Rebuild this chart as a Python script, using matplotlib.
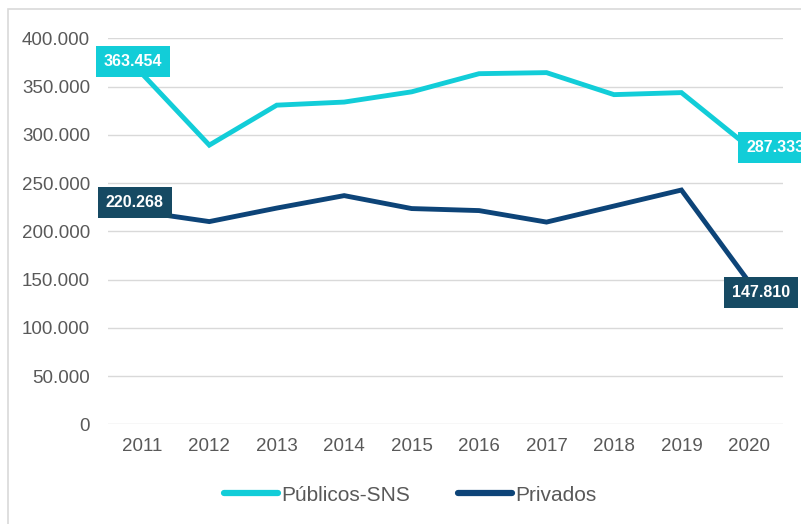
import matplotlib
matplotlib.use("Agg")
import matplotlib.pyplot as plt
from matplotlib.ticker import FuncFormatter, MultipleLocator
from matplotlib.patches import Rectangle

plt.rcParams['font.family'] = ['Liberation Sans', 'DejaVu Sans']

# data
anos = ["2011", "2012", "2013", "2014", "2015", "2016", "2017", "2018", "2019", "2020"]
publicos = [363454, 289300, 330700, 333900, 344500, 363300, 364400, 341600, 343700, 287333]
privados = [220268, 210100, 224100, 237000, 223600, 221500, 209600, 226200, 242800, 147810]

cor_pub = "#12CDD8"
cor_priv = "#0D4478"
cor_priv_lbl = "#164A63"
cinza = "#D9D9D9"
texto = "#595959"

fig = plt.figure(figsize=(8.01, 5.24), dpi=100)
ax = fig.add_axes([0.135, 0.19, 0.842, 0.737])

# outer chart frame
fig.patches.append(Rectangle((8 / 801, -0.05), 1.1, 1 - 9 / 524 + 0.05,
                             transform=fig.transFigure, fill=False,
                             edgecolor=cinza, linewidth=1.2))

x = list(range(len(anos)))
ax.plot(x, publicos, color=cor_pub, lw=3.5, label="Públicos-SNS",
        solid_joinstyle="miter", zorder=3)
ax.plot(x, privados, color=cor_priv, lw=3.5, label="Privados",
        solid_joinstyle="miter", zorder=3)

ax.set_xlim(-0.5, len(anos) - 0.5)
ax.set_ylim(0, 400000)
ax.yaxis.set_major_locator(MultipleLocator(50000))
ax.yaxis.set_major_formatter(FuncFormatter(lambda v, p: f"{v:,.0f}".replace(",", ".")))
ax.set_xticks(x)
ax.set_xticklabels(anos)
ax.grid(axis="y", color=cinza, lw=1.0)
ax.set_axisbelow(True)
for s in ax.spines.values():
    s.set_visible(False)
ax.tick_params(length=0, labelsize=13.5, colors=texto)
ax.tick_params(axis="y", pad=13)
ax.tick_params(axis="x", pad=10)

# data labels
def rotulo(xi, yi, cor, dx, dy):
    ax.annotate(f"{yi:,.0f}".replace(",", "."), (xi, yi), xytext=(dx, dy),
                textcoords="offset points", ha="center", va="center",
                color="white", fontsize=11.5, fontweight="bold",
                bbox=dict(boxstyle="square,pad=0.5", fc=cor, ec="none"),
                zorder=5, annotation_clip=False)

rotulo(0, publicos[0], cor_pub, -6.5, 9)
rotulo(9, publicos[-1], cor_pub, 19, -0.5)
rotulo(0, privados[0], cor_priv_lbl, -5, 6.5)
rotulo(9, privados[-1], cor_priv_lbl, 8.5, -7.5)

leg = ax.legend(loc="upper center", bbox_to_anchor=(0.448, -0.11), ncol=2,
                frameon=False, fontsize=15, handlelength=2.6,
                handletextpad=0.15, columnspacing=2.3)
for t in leg.get_texts():
    t.set_color(texto)
for h in leg.get_lines():
    h.set_linewidth(4.5)
    h.set_solid_capstyle("round")

fig.savefig("out.png", dpi=100)
